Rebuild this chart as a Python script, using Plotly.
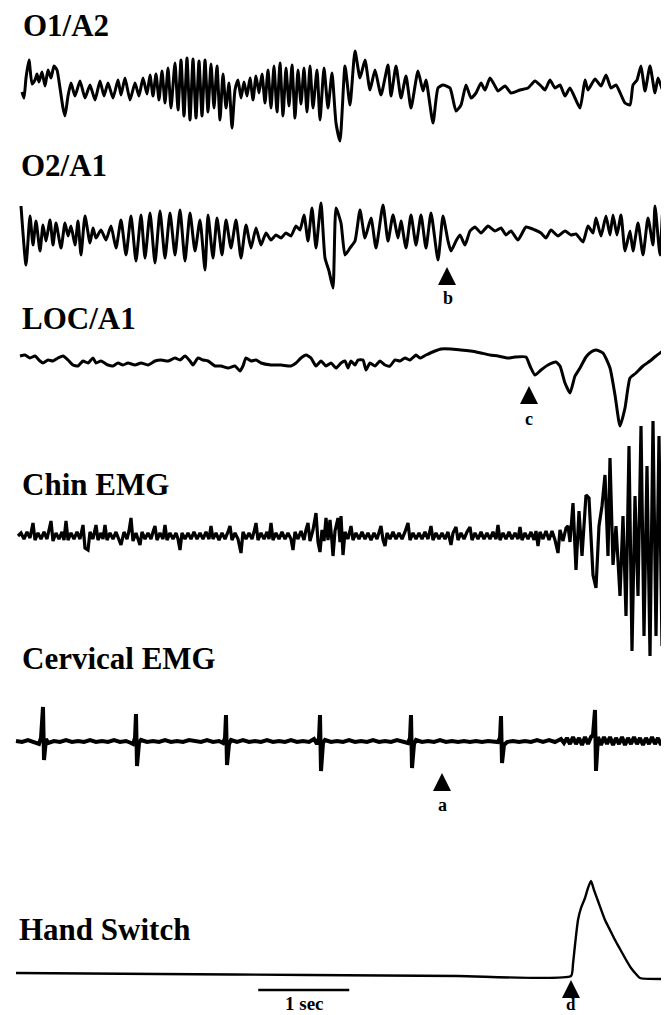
import plotly.graph_objects as go

# ---------------------------------------------------------------------------
# DATA  (sample index at 91 samples/s, amplitude in uV)
# EEG/EMG channels use the clinical convention: negative values are drawn up.
# ---------------------------------------------------------------------------
FS = 91.0
DURATION_S = 669 / FS

o1_points = [(14, 4), (16, 10), (18, -10), (21, -28), (24, -4), (27, -8), (29, -14), (31, -6), (34, -16), (37, -2),
             (40, -18), (43, -10), (46, -22), (49, -18), (52, 0), (55, 20), (57, 28), (60, 8), (63, -5), (67, 8),
             (72, -7), (77, 10), (82, -3), (87, 12), (92, -7), (96, 8), (100, -5), (105, 10), (110, -8), (113, 7),
             (117, -10), (122, 12), (127, -5), (131, 8), (135, -10), (139, 6), (142, -13), (145, 8), (148, -14), (151, 12),
             (154, -17), (157, 15), (160, -20), (163, 20), (167, -25), (170, 22), (173, -28), (176, 28), (179, -30), (182, 32),
             (185, -29), (188, 30), (191, -27), (194, 28), (197, -28), (200, 24), (203, -24), (206, 20), (209, -22), (212, 32),
             (215, -14), (218, 20), (221, -5), (224, 40), (227, 2), (230, -8), (233, 10), (236, -6), (239, 8), (242, -10),
             (245, 12), (248, -12), (251, 5), (254, -14), (257, 15), (260, -18), (263, 20), (266, -22), (269, 24), (272, -25),
             (275, 28), (278, -20), (281, 18), (284, -23), (287, 30), (290, -18), (293, 16), (296, -20), (299, 24), (302, -22),
             (305, 20), (309, -18), (312, 32), (316, -20), (320, 20), (324, -15), (328, 35), (332, 53), (337, -22), (342, 17),
             (347, -37), (352, -10), (357, -28), (362, 2), (367, -18), (373, 7), (380, -23), (383, 8), (388, -22), (393, 10),
             (398, -12), (403, 20), (410, -17), (415, 3), (418, -8), (425, 35), (430, 0), (435, -3), (442, 0), (448, 23),
             (453, 17), (458, -3), (463, 10), (468, 5), (473, -5), (477, 2), (482, -10), (487, -2), (490, 3), (497, -2),
             (503, 5), (512, 2), (520, 0), (527, -7), (533, -2), (537, 2), (542, -8), (547, 0), (552, -3), (557, 8),
             (562, 0), (572, 20), (577, -8), (580, 2), (587, -9), (593, -2), (598, -13), (603, 0), (608, -3), (617, 15),
             (622, 17), (625, -3), (629, -8), (633, -22), (637, 3), (642, -22), (647, 5), (650, -10), (655, 3), (658, -30),
             (662, 3), (664, 33), (667, -42), (669, -20)]

o2_points = [(13, -32), (18, 27), (22, -22), (25, 7), (28, -17), (32, 13), (35, -13), (38, 3), (42, -18), (45, 7),
             (48, -15), (53, 10), (57, -15), (60, -2), (63, -12), (67, 7), (70, -17), (73, 17), (77, -22), (82, 5),
             (85, -10), (88, 0), (93, -8), (98, 2), (103, -12), (108, 10), (113, -18), (118, 17), (123, -22), (128, 23),
             (133, -23), (137, 20), (142, -25), (147, 25), (152, -27), (157, 20), (162, -25), (167, 17), (172, -28), (177, 23),
             (182, -25), (187, 13), (192, -18), (197, 32), (200, -23), (205, 20), (209, -20), (214, 17), (218, -18), (223, 10),
             (228, -18), (233, 20), (238, -13), (243, 10), (248, -10), (253, 7), (258, -5), (263, 2), (268, -3), (273, 0),
             (278, -5), (283, -2), (288, -12), (292, -8), (296, -23), (300, 3), (304, -30), (308, 10), (313, -35), (317, 20),
             (321, 33), (325, 50), (328, -30), (333, -15), (337, 17), (342, 10), (347, 3), (352, -28), (357, 0), (363, -20),
             (368, 10), (375, -33), (380, 3), (385, -23), (390, 0), (393, -17), (398, 10), (403, -23), (408, 7), (413, -23),
             (418, 10), (423, -25), (430, 22), (435, -22), (440, 3), (443, 13), (448, 3), (452, -3), (457, 7), (462, -7),
             (467, -11), (473, -5), (480, -12), (487, -7), (493, -10), (498, -3), (503, -7), (510, 2), (518, -11), (527, -8),
             (533, -5), (538, 0), (543, -8), (550, -2), (557, -7), (563, -3), (568, -4), (575, 4), (580, -12), (585, -5),
             (588, -20), (593, -2), (598, -22), (602, -3), (605, -23), (609, -3), (613, -23), (617, 13), (622, -7), (625, 13),
             (630, -15), (635, 17), (640, -20), (645, 7), (647, -32), (652, 17), (655, -30), (660, 20), (663, -28), (667, 17),
             (669, -15)]

loc_points = [(12, -4), (17, -5), (22, -2), (27, -4), (32, 1), (35, 3), (40, 0), (45, 1), (50, -2), (55, -4),
              (60, 0), (65, 5), (70, 6), (75, 1), (80, 3), (85, -2), (88, 3), (93, 1), (100, 5), (105, 6),
              (110, 3), (115, 5), (120, 3), (127, 5), (133, 3), (140, 5), (147, 1), (153, 0), (160, 1), (167, -2),
              (172, 0), (177, -4), (182, 1), (185, 5), (190, -2), (195, 0), (200, 1), (207, 6), (213, 6), (220, 8),
              (227, 6), (232, 11), (235, 6), (238, -2), (243, 1), (248, 0), (253, 3), (263, 5), (273, 5), (283, 6),
              (288, 3), (293, -2), (298, -5), (303, -2), (308, 6), (313, 1), (318, 6), (323, 3), (328, 8), (333, 3),
              (337, 1), (340, 8), (343, 1), (347, 5), (350, 0), (355, 0), (358, 10), (362, 3), (367, 6), (372, 1),
              (377, 5), (382, 6), (387, 0), (392, 1), (397, -2), (402, 0), (408, -5), (412, -2), (418, -5), (427, -9),
              (433, -11), (443, -11), (453, -10), (463, -9), (473, -7), (482, -5), (490, -4), (500, -2), (507, -3), (518, -3),
              (522, 6), (527, 15), (533, 10), (540, 5), (548, 2), (552, 6), (557, 23), (562, 33), (567, 16), (572, 8),
              (578, -3), (583, -8), (588, -10), (595, -7), (602, 8), (607, 35), (612, 66), (617, 48), (622, 18), (628, 13),
              (635, 6), (642, 1), (648, -4), (655, -9), (660, -10), (667, -7), (669, -7)]

chin_points = [(10, 0), (13, -3), (16, 3), (19, -4), (22, 2), (25, -13), (27, 4), (30, -3), (33, 3), (36, -4),
               (39, 3), (43, -15), (45, 5), (48, -3), (51, 3), (54, -4), (56, 4), (58, -15), (60, 4), (63, -3),
               (66, 3), (69, -4), (72, 3), (75, -11), (77, 12), (80, 14), (82, -4), (85, 3), (88, -11), (90, 4),
               (93, -3), (95, 3), (97, -11), (99, 4), (102, -3), (105, 3), (108, -4), (111, 3), (113, 9), (116, -4),
               (119, 3), (121, -5), (123, -18), (125, 5), (128, -3), (130, 3), (132, 9), (134, -4), (137, 3), (140, -3),
               (143, 3), (145, -4), (147, -10), (149, 4), (152, -3), (155, 3), (157, -11), (159, 4), (162, -3), (165, 3),
               (168, -3), (170, 3), (172, 14), (174, -3), (177, 3), (180, -3), (183, 3), (186, -4), (189, 3), (192, -3),
               (195, 3), (198, -4), (201, 3), (203, -10), (205, 3), (208, -3), (211, 4), (214, -3), (217, 3), (220, -4),
               (222, -10), (224, 4), (227, -3), (230, 3), (233, 17), (235, -4), (238, 3), (241, -3), (244, 3), (246, -4),
               (248, -13), (250, 4), (253, -3), (256, 3), (259, -4), (261, 3), (263, -13), (265, 4), (268, -3), (271, 3),
               (274, -4), (277, 3), (280, -3), (283, 3), (285, 14), (287, -4), (290, 3), (293, -5), (296, 4), (298, -6),
               (300, -13), (302, 5), (305, -6), (308, -23), (310, 6), (312, 16), (314, -6), (316, 5), (318, -18), (320, 4),
               (322, -16), (324, 6), (325, 20), (327, -5), (330, -18), (332, 6), (333, -20), (335, 19), (337, -4), (340, 3),
               (343, -10), (345, 4), (348, -3), (351, 3), (354, -4), (357, 3), (360, -3), (363, 4), (366, -3), (369, 3),
               (371, -4), (373, -10), (375, 4), (377, 10), (379, -3), (382, 3), (385, -4), (388, 3), (391, -3), (394, 3),
               (397, -4), (400, -13), (402, 4), (405, -3), (408, 3), (411, -3), (414, 3), (417, -4), (420, 3), (423, -10),
               (425, 4), (428, -3), (431, 3), (434, -3), (437, 3), (440, -4), (443, 9), (445, -3), (448, -9), (450, 4),
               (453, -3), (456, 3), (459, -4), (462, -9), (464, 4), (467, -3), (470, 3), (473, -4), (476, 3), (479, -3),
               (482, 3), (485, -4), (488, 3), (490, -11), (492, 4), (495, -3), (498, 3), (501, -4), (504, 3), (507, -3),
               (510, 3), (512, -9), (514, 4), (517, -3), (520, 3), (523, -4), (526, 4), (528, -5), (530, 10), (532, -4),
               (535, 3), (538, -5), (541, 4), (544, -5), (547, 4), (550, 17), (552, -6), (555, 5), (558, -8), (560, -10),
               (562, 6), (565, -33), (568, 34), (571, -25), (574, 20), (578, -41), (581, -38), (585, 39), (588, 52), (591, -10),
               (594, -30), (597, -61), (600, 20), (602, -78), (605, 29), (608, -10), (612, 60), (615, -20), (618, 80), (621, -90),
               (624, 115), (627, -40), (630, 60), (633, -110), (636, 100), (639, -70), (642, 120), (645, -115), (648, 100), (651, -100),
               (654, 110), (657, -95), (660, 125), (662, -100), (664, 130), (666, -60), (668, 110), (669, 90)]

cerv_points = [(8, 0), (14, 1), (20, -1), (26, 1), (31, 3), (33, -3), (35, -34), (36, 19), (38, -2), (40, 2),
               (46, 0), (52, 1), (58, -1), (64, 1), (70, 0), (76, 1), (82, -1), (88, 1), (94, 0), (100, 1),
               (106, -1), (112, 1), (118, 0), (123, 2), (125, 3), (127, -3), (128, -27), (129, 25), (131, 2), (133, -1),
               (139, 1), (145, 0), (151, 1), (157, -1), (163, 1), (169, 0), (175, 1), (181, -1), (187, 0), (193, 1),
               (199, -1), (205, 1), (211, 0), (215, 2), (217, -3), (218, -26), (219, 24), (221, 3), (223, -1), (229, 1),
               (235, -1), (241, 1), (247, 0), (253, 1), (259, -1), (265, 1), (271, 0), (277, 1), (283, -1), (289, 1),
               (295, 0), (301, 1), (306, -2), (309, 3), (311, -3), (312, -26), (313, 30), (315, 2), (317, -1), (323, 1),
               (329, 0), (335, 1), (341, -1), (347, 1), (353, 0), (359, 1), (365, -1), (371, 1), (377, 0), (383, 1),
               (389, -1), (395, 1), (400, 2), (402, -3), (403, -26), (404, 27), (406, 3), (408, -1), (414, 1), (420, 0),
               (426, 1), (432, -1), (438, 1), (444, 0), (450, 1), (456, 0), (462, 1), (468, 0), (474, 1), (480, 0),
               (486, 1), (490, 1), (492, -3), (493, -25), (494, 22), (496, 4), (499, 1), (505, 0), (511, 1), (517, 0),
               (523, 1), (529, -1), (535, 1), (541, -1), (547, 1), (553, -2), (556, 2), (559, -3), (562, 3), (565, -4),
               (568, 3), (571, -3), (574, 4), (577, -4), (580, 3), (583, -4), (585, -6), (587, -31), (588, 30), (590, -4),
               (593, 4), (596, -4), (599, 3), (602, -4), (605, 4), (608, -3), (611, 3), (614, -4), (617, 4), (620, -3),
               (623, 3), (626, -4), (629, 3), (632, -3), (635, 4), (638, -3), (641, 3), (644, -4), (647, 3), (650, -3),
               (653, 4), (656, -3), (659, 3), (662, -2), (664, -3), (665, -25), (666, 20), (668, -2), (669, 0)]

# Hand switch output (arbitrary units, positive up)
hand_points = [(8, 3), (150, 2), (300, 1), (450, 0), (563, 0), (565, 12), (567, 31), (570, 56), (573, 68), (577, 78),
               (580, 88), (583, 95), (586, 86), (590, 75), (597, 56), (602, 46), (607, 36), (612, 27), (617, 18), (623, 8),
               (628, 2), (632, -2), (665, -3)]

channel_names = ["O1/A2", "O2/A1", "LOC/A1", "Chin EMG", "Cervical EMG", "Hand Switch"]
channel_points = [o1_points, o2_points, loc_points, chin_points, cerv_points, hand_points]

# event markers: (label, channel index, sample index, amplitude at tip)
event_labels = ["b", "c", "a", "d"]
event_channels = [1, 2, 4, 5]
event_samples = [439, 521, 434, 563]
event_tip_uv = [29, 26, 32, -4]

SCALE_BAR_START_S = 2.75
SCALE_BAR_LEN_S = 1.0
SCALE_BAR_LEVEL = -14

# ---------------------------------------------------------------------------
# LAYOUT (pixel bands of each channel strip: baseline, top, bottom)
# ---------------------------------------------------------------------------
W, H = 669, 1015
SERIF = "Liberation Serif"
bands = [(80, 30, 140), (230, 185, 295), (352, 330, 440), (528, 400, 675), (733, 690, 775), (968, 860, 1000)]
negative_up = [True, True, True, True, True, False]
line_widths = [3.0, 3.0, 3.0, 3.2, 4.0, 2.4]
label_pos = [(13, 18), (11, 157), (12, 310), (12, 476), (12, 650), (9, 921)]
event_text_pos = [(440, 290), (521, 411), (434, 797), (563, 996)]
event_font = [18, 18, 18, 17]
scale_text_pos = (296, 995)

fig = go.Figure()
layout_axes = {}
for i, (pts, band) in enumerate(zip(channel_points, bands)):
    base, top, bottom = band
    yname = "y" if i == 0 else f"y{i + 1}"
    t = [p[0] / FS for p in pts]
    val = [p[1] for p in pts]
    smooth = i in (0, 1, 2, 5)
    fig.add_trace(go.Scatter(x=t, y=val, mode="lines", xaxis="x", yaxis=yname,
                             line=dict(color="black", width=line_widths[i],
                                       shape="spline" if smooth else "linear",
                                       smoothing=0.5 if smooth else None),
                             hoverinfo="skip", showlegend=False))
    rng = [bottom - base, top - base] if negative_up[i] else [base - bottom, base - top]
    key = "yaxis" if i == 0 else f"yaxis{i + 1}"
    layout_axes[key] = dict(domain=[1 - bottom / H, 1 - top / H], range=rng, visible=False,
                            anchor="x", fixedrange=True)

# 1 sec scale bar on the hand-switch strip
fig.add_trace(go.Scatter(x=[SCALE_BAR_START_S, SCALE_BAR_START_S + SCALE_BAR_LEN_S],
                         y=[SCALE_BAR_LEVEL, SCALE_BAR_LEVEL],
                         mode="lines", xaxis="x", yaxis="y6", line=dict(color="black", width=2.6),
                         hoverinfo="skip", showlegend=False))

annotations = []
for name, (lx, ly) in zip(channel_names, label_pos):
    annotations.append(dict(text=f"<b>{name}</b>", x=lx / W, y=1 - ly / H, xref="paper", yref="paper",
                            xanchor="left", yanchor="middle", showarrow=False,
                            font=dict(family=SERIF, size=31, color="black")))

for lab, ch, s, tip, (tx, ty), fsz in zip(event_labels, event_channels, event_samples, event_tip_uv,
                                          event_text_pos, event_font):
    yref = "y" if ch == 0 else f"y{ch + 1}"
    annotations.append(dict(text="", x=s / FS, y=tip, xref="x", yref=yref, showarrow=True,
                            arrowhead=2, arrowsize=1.8, arrowwidth=2, arrowcolor="black",
                            ax=0, ay=12, font=dict(size=1), borderpad=0))
    annotations.append(dict(text=f"<b>{lab}</b>", x=tx / W, y=1 - ty / H, xref="paper", yref="paper",
                            showarrow=False, xanchor="center", yanchor="middle", borderpad=0,
                            font=dict(family=SERIF, size=fsz, color="black")))

annotations.append(dict(text="<b>1 sec</b>", x=scale_text_pos[0] / W, y=1 - scale_text_pos[1] / H,
                        xref="paper", yref="paper", showarrow=False, xanchor="center", yanchor="middle",
                        font=dict(family=SERIF, size=19, color="black")))

fig.update_layout(
    width=W, height=H, margin=dict(l=0, r=0, t=0, b=0),
    paper_bgcolor="white", plot_bgcolor="rgba(0,0,0,0)",
    xaxis=dict(domain=[0, 1], range=[0, DURATION_S], visible=False, fixedrange=True),
    annotations=annotations, showlegend=False,
    **layout_axes,
)

fig.write_html("out.html")
